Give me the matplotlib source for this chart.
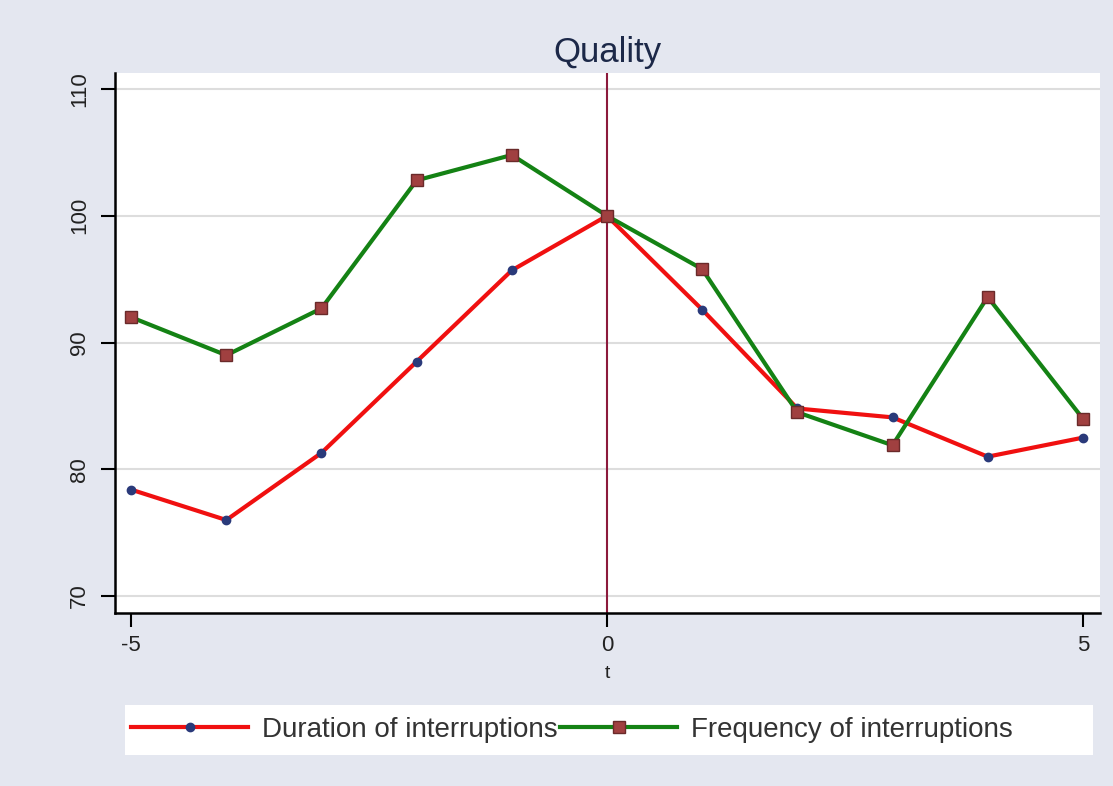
import matplotlib
matplotlib.use("Agg")
import matplotlib.pyplot as plt
from matplotlib.lines import Line2D
from matplotlib.patches import Rectangle

# Event time
t = [-5, -4, -3, -2, -1, 0, 1, 2, 3, 4, 5]

# Quality index
duration = [78.4, 76.0, 81.3, 88.5, 95.7, 100.0, 92.6, 84.8, 84.1, 81.0, 82.5]
frequency = [92.0, 89.0, 92.7, 102.8, 104.8, 100.0, 95.8, 84.5, 81.9, 93.6, 84.0]

y_ticks = [70, 80, 90, 100, 110]
x_ticks = [-5, 0, 5]

plt.rcParams['font.family'] = ['Liberation Sans', 'DejaVu Sans']

bg = "#e4e7f0"
fig = plt.figure(figsize=(11.13, 7.86), dpi=100, facecolor=bg)
ax = fig.add_axes([0.1033, 0.22, 0.885, 0.687])
ax.set_facecolor("white")

# Gridlines on the y ticks
ax.set_yticks(y_ticks)
ax.yaxis.grid(True, color="#dddddd", linewidth=1.5)
ax.set_axisbelow(True)

# Reference line at t = 0
ax.axvline(0, color="#8c1a3c", linewidth=1.5, zorder=2)

ax.plot(t, duration, color="#f01010", linewidth=3, marker="o", markersize=6,
        markerfacecolor="#2a3a7a", markeredgecolor="#2a3a7a", zorder=3)
ax.plot(t, frequency, color="#148214", linewidth=3, marker="s", markersize=9,
        markerfacecolor="#a04040", markeredgecolor="#6a2a2a", zorder=3)

ax.set_xlim(-5.17, 5.18)
ax.set_ylim(68.66, 111.26)
ax.set_xticks(x_ticks)
ax.set_xticklabels([str(v) for v in x_ticks])
ax.set_yticklabels([str(v) for v in y_ticks], rotation=90, va="center")
ax.tick_params(axis="both", direction="out", length=10, width=1.5,
               labelsize=16, colors="black", labelcolor="#222222")
ax.tick_params(axis="y", pad=8)
ax.tick_params(axis="x", pad=6)

for side in ["top", "right"]:
    ax.spines[side].set_visible(False)
for side in ["left", "bottom"]:
    ax.spines[side].set_linewidth(1.8)
    ax.spines[side].set_color("black")

ax.set_xlabel("t", fontsize=14, color="#222222", labelpad=6)
ax.set_title("Quality", fontsize=25, color="#1c2848", pad=8)

# White box behind the legend
fig.patches.append(Rectangle((0.112, 0.040), 0.870, 0.063, transform=fig.transFigure,
                             facecolor="white", edgecolor="none", zorder=0))

handles = [
    Line2D([], [], color="#f01010", linewidth=3, marker="o", markersize=6,
           markerfacecolor="#2a3a7a", markeredgecolor="#2a3a7a"),
    Line2D([], [], color="#148214", linewidth=3, marker="s", markersize=9,
           markerfacecolor="#a04040", markeredgecolor="#6a2a2a"),
]
labels = ["Duration of interruptions", "Frequency of interruptions"]
leg = fig.legend(handles, labels, loc="center left", ncol=2,
                 bbox_to_anchor=(0.118, 0.0715),
                 fontsize=20, handlelength=4.2, handletextpad=0.5,
                 columnspacing=0.1, frameon=False, borderaxespad=0,
                 borderpad=0)
for txt in leg.get_texts():
    txt.set_color("#333333")

fig.savefig("out.png", dpi=100, facecolor=bg)
